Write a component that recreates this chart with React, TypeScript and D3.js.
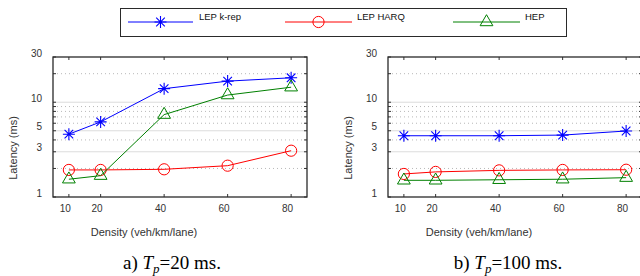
import { useEffect, useRef } from "react";
import * as d3 from "d3";

// density (veh/km/lane)
const densities = [10, 20, 40, 60, 80];
const xTicks = [10, 20, 40, 60, 80];
const yTicks = [1, 3, 5, 10, 30];
const solidGrid = [3, 5, 10];
const dottedGrid = [2, 4, 6, 7, 8, 9, 20];

// Tp = 20 ms
const kRep20 = [4.6, 6.2, 13.9, 16.7, 18.1];
const harq20 = [1.93, 1.93, 1.96, 2.14, 3.08];
const hep20 = [1.54, 1.68, 7.4, 11.9, 14.4];

// Tp = 100 ms
const kRep100 = [4.43, 4.43, 4.43, 4.5, 4.97];
const harq100 = [1.75, 1.84, 1.91, 1.93, 1.94];
const hep100 = [1.5, 1.5, 1.52, 1.54, 1.6];

const seriesNames = ["LEP k-rep", "LEP HARQ", "HEP"];
const seriesColors = ["#0000ff", "#ff0000", "#008000"];

const FONT = "'Liberation Sans', Arial, sans-serif";
const TEXT = "#333";

const drawMarker = (g, kind, x, y, color) => {
  if (kind === 0) {
    const a = 6, d = 4.3;
    const p = `M${x - a},${y}L${x + a},${y}M${x},${y - a}L${x},${y + a}` +
      `M${x - d},${y - d}L${x + d},${y + d}M${x - d},${y + d}L${x + d},${y - d}`;
    g.append("path").attr("d", p).attr("stroke", color).attr("stroke-width", 1.1).attr("fill", "none");
  } else if (kind === 1) {
    g.append("circle").attr("cx", x).attr("cy", y).attr("r", 5.6)
      .attr("stroke", color).attr("stroke-width", 1).attr("fill", "none");
  } else {
    g.append("path")
      .attr("d", `M${x},${y - 7.3}L${x + 6.4},${y + 3.7}L${x - 6.4},${y + 3.7}Z`)
      .attr("stroke", color).attr("stroke-width", 1).attr("fill", "none");
  }
};

const drawPanel = (svg, shift, data, caption) => {
  const x = d3.scaleLinear().domain([5, 85]).range([53 + shift, 307 + shift]);
  const y = d3.scaleLog().domain([1, 30]).range([197, 57]);
  const g = svg.append("g");
  const [x0, x1] = x.range();

  // grid
  g.selectAll(".gs").data(solidGrid).enter().append("line")
    .attr("x1", x0).attr("x2", x1).attr("y1", (d) => y(d)).attr("y2", (d) => y(d))
    .attr("stroke", "#dcdcdc").attr("stroke-width", 1);
  g.selectAll(".gd").data(dottedGrid).enter().append("line")
    .attr("x1", x0).attr("x2", x1).attr("y1", (d) => y(d)).attr("y2", (d) => y(d))
    .attr("stroke", "#b8b8b8").attr("stroke-width", 1).attr("stroke-dasharray", "1,3");

  // inner ticks
  [...yTicks, ...dottedGrid].forEach((v) => {
    g.append("line").attr("x1", x0).attr("x2", x0 + 3).attr("y1", y(v)).attr("y2", y(v)).attr("stroke", "#333");
    g.append("line").attr("x1", x1).attr("x2", x1 - 3).attr("y1", y(v)).attr("y2", y(v)).attr("stroke", "#333");
  });
  xTicks.forEach((v) => {
    g.append("line").attr("x1", x(v)).attr("x2", x(v)).attr("y1", 197).attr("y2", 194).attr("stroke", "#333");
    g.append("line").attr("x1", x(v)).attr("x2", x(v)).attr("y1", 57).attr("y2", 60).attr("stroke", "#333");
  });

  // frame
  g.append("rect").attr("x", x0).attr("y", 57).attr("width", x1 - x0).attr("height", 140)
    .attr("fill", "none").attr("stroke", "#2a2a2a").attr("stroke-width", 1.3);

  // tick labels
  g.selectAll(".yl").data(yTicks).enter().append("text")
    .attr("x", x0 - 11).attr("y", (d) => y(d) - 4).attr("dy", "0.35em")
    .attr("text-anchor", "end").attr("font-family", FONT).attr("font-size", 10).attr("fill", TEXT)
    .text((d) => d);
  g.selectAll(".xl").data(xTicks).enter().append("text")
    .attr("x", (d) => x(d) - 3.5).attr("y", 208).attr("dy", "0.35em")
    .attr("text-anchor", "middle").attr("font-family", FONT).attr("font-size", 10).attr("fill", TEXT)
    .text((d) => d);

  // axis titles
  g.append("text").attr("x", 144 + shift).attr("y", 232).attr("dy", "0.35em")
    .attr("text-anchor", "middle").attr("font-family", FONT).attr("font-size", 11).attr("fill", TEXT)
    .text("Density (veh/km/lane)");
  g.append("text").attr("transform", `translate(${13 + shift},148) rotate(-90)`).attr("dy", "0.35em")
    .attr("text-anchor", "middle").attr("font-family", FONT).attr("font-size", 11).attr("fill", TEXT)
    .text("Latency (ms)");

  // series
  const line = d3.line().x((d) => x(d[0])).y((d) => y(d[1]));
  data.forEach((vals, i) => {
    const pts = densities.map((dn, j) => [dn, vals[j]]);
    g.append("path").attr("d", line(pts)).attr("fill", "none")
      .attr("stroke", seriesColors[i]).attr("stroke-width", 1);
    pts.forEach((p) => drawMarker(g, i, x(p[0]), y(p[1]), seriesColors[i]));
  });

  // caption
  const t = g.append("text").attr("x", caption.cx).attr("y", 269).attr("text-anchor", "middle")
    .attr("font-family", "'Liberation Serif', 'Times New Roman', serif").attr("font-size", 19).attr("fill", "#000");
  t.append("tspan").text(caption.prefix + " ");
  t.append("tspan").attr("font-style", "italic").text("T");
  t.append("tspan").attr("font-style", "italic").attr("font-size", 13).attr("dy", 4).text("p");
  t.append("tspan").attr("dy", -4).text(caption.rest);
};

const App = () => {
  const svgRef = useRef(null);

  useEffect(() => {
    const svg = d3.select(svgRef.current);
    svg.selectAll("*").remove();

    drawPanel(svg, 0, [kRep20, harq20, hep20], { cx: 172, prefix: "a)", rest: "=20 ms." });
    drawPanel(svg, 335, [kRep100, harq100, hep100], { cx: 508, prefix: "b)", rest: "=100 ms." });

    // legend
    const lg = svg.append("g");
    lg.append("rect").attr("x", 120.5).attr("y", 8.5).attr("width", 446).attr("height", 28)
      .attr("fill", "#fff").attr("stroke", "#2a2a2a").attr("stroke-width", 1);
    const entries = [
      { x1: 128, x2: 193, tx: 199 },
      { x1: 285, x2: 352, tx: 357 },
      { x1: 453, x2: 520, tx: 525 },
    ];
    entries.forEach((e, i) => {
      lg.append("line").attr("x1", e.x1).attr("x2", e.x2).attr("y1", 22).attr("y2", 22)
        .attr("stroke", seriesColors[i]).attr("stroke-width", 1);
      drawMarker(lg, i, (e.x1 + e.x2) / 2, 22, seriesColors[i]);
      lg.append("text").attr("x", e.tx).attr("y", 20).attr("font-family", FONT)
        .attr("font-size", 9.5).attr("fill", "#111").text(seriesNames[i]);
    });
  }, []);

  return (
    <svg ref={svgRef} width={640} height={276}
      style={{ position: "absolute", left: 0, top: 0, background: "#fff" }} />
  );
};

export default App;
